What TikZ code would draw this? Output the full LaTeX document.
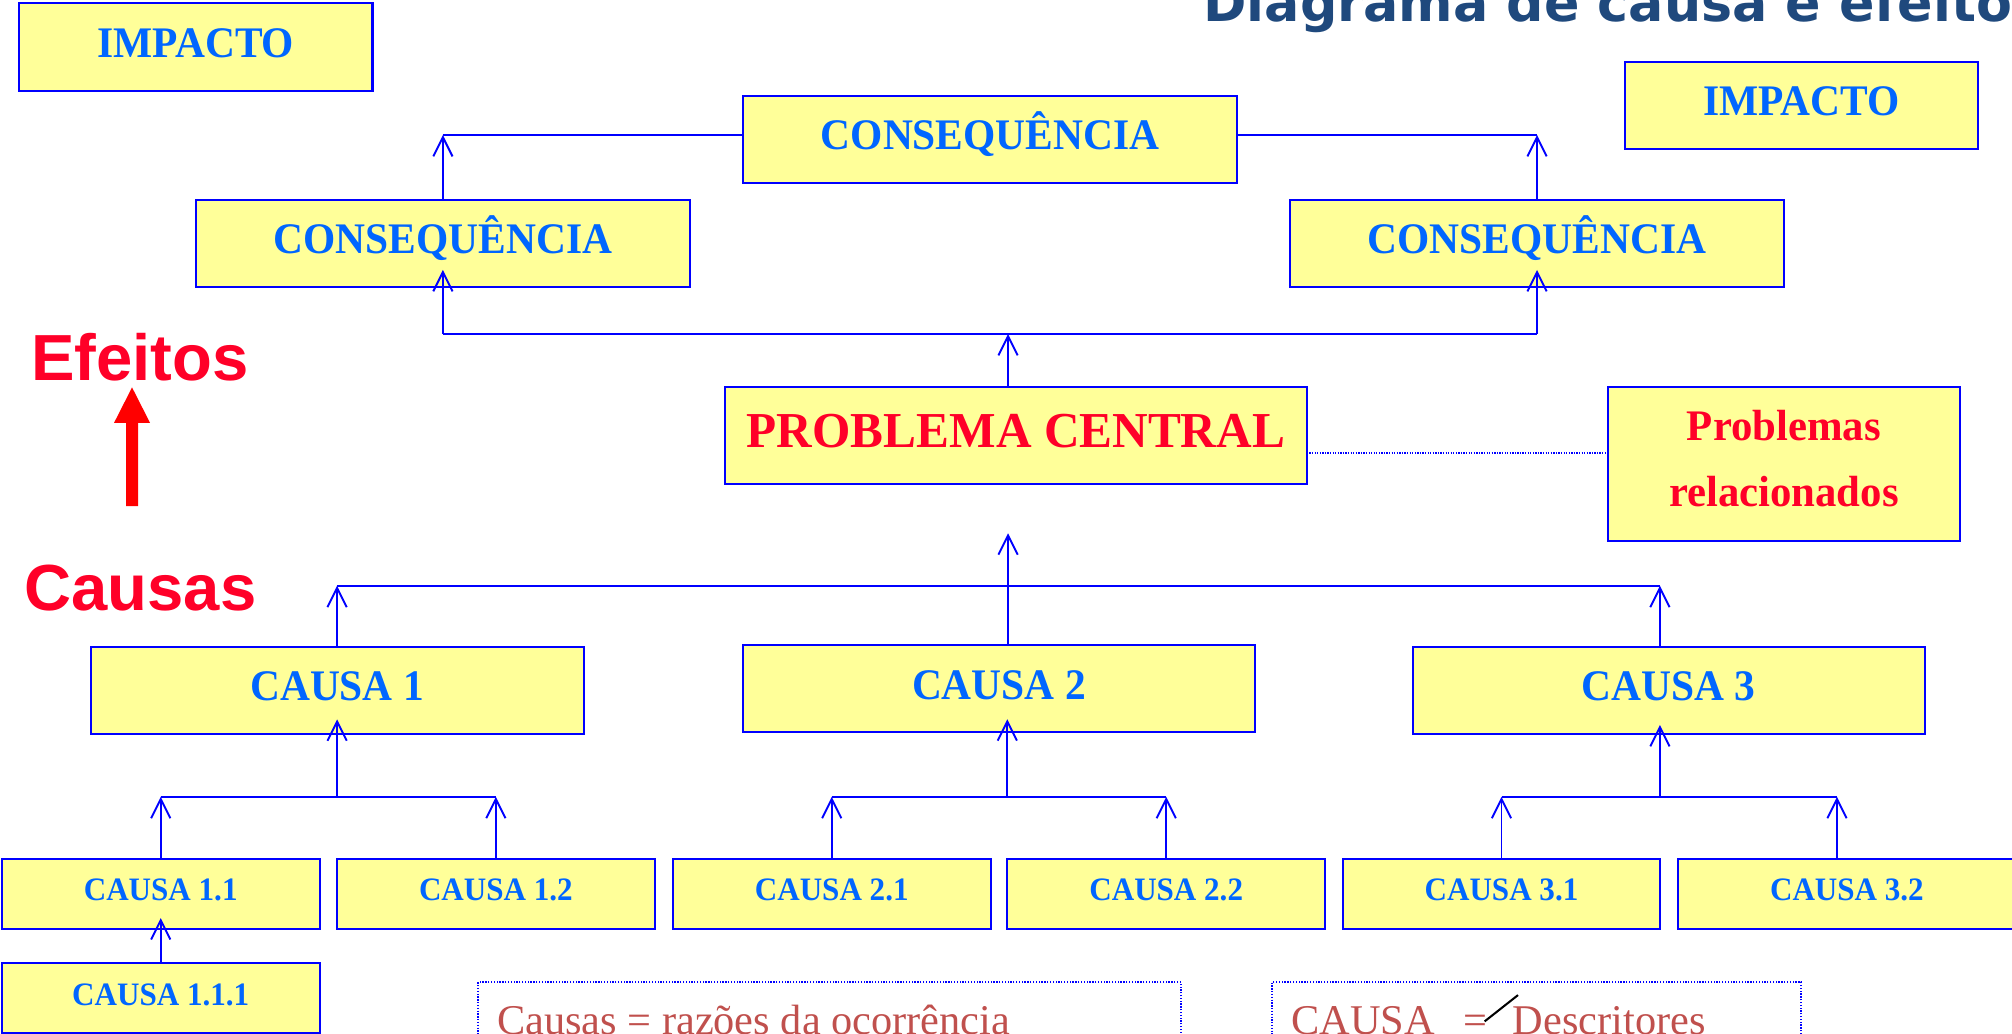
\documentclass[tikz,border=0pt]{standalone}
\usepackage{fontspec}
\usepackage{graphicx}
\usetikzlibrary{arrows.meta,calc}
\setmainfont{Liberation Serif}
\newfontfamily\bx[FakeStretch=0.95]{Liberation Serif}
\newfontfamily\rx[FakeStretch=0.98]{Liberation Serif}
\newfontfamily\sansb{Liberation Sans}
\newfontfamily\titlef{DejaVu Sans}
\definecolor{boxfill}{RGB}{255,255,153}
\definecolor{boxline}{RGB}{0,0,255}
\definecolor{bluetxt}{RGB}{0,102,255}
\definecolor{redtxt}{RGB}{255,0,40}
\definecolor{titleblue}{RGB}{31,73,125}
\definecolor{notered}{RGB}{192,80,77}
\tikzset{
  box/.style={draw=boxline, fill=boxfill, line width=0.8pt, inner sep=0pt, outer sep=0pt,
    text=bluetxt, font=\bx\bfseries\fontsize{17}{20}\selectfont, text height=8pt, text depth=0pt,
    minimum height=33.9pt},
  small/.style={box, font=\bx\bfseries\fontsize{12.75}{15}\selectfont, text height=5.25pt,
    minimum height=27.25pt, minimum width=123.8pt},
  con/.style={draw=boxline, line width=0.75pt},
  arr/.style={-{Straight Barb[length=7.5pt,width=7.5pt]}},
  dotl/.style={draw=boxline, line width=0.7pt, dash pattern=on 0.5pt off 0.5pt},
  dotbox/.style={draw=boxline, line width=0.6pt, dash pattern=on 0.5pt off 0.6pt, inner sep=0pt, outer sep=0pt},
  note/.style={anchor=base west, inner sep=0pt, text=notered, font=\fontsize{16.5}{19}\selectfont},
  side/.style={anchor=base west, inner sep=0pt, text=redtxt, font=\sansb\bfseries\fontsize{25.4}{30}\selectfont}
}
\begin{document}
\begin{tikzpicture}[x=0.5pt,y=-0.5pt]
\useasboundingbox (0,0) rectangle (1568,805.8);
\begin{scope}
\clip (0,0) rectangle (1568,805.8);
% title
\node[anchor=base west, inner sep=0pt, text=titleblue] (title) at (937.5,17)
  {\resizebox{315pt}{!}{\titlef\bfseries Diagrama de causa e efeito}};
% boxes
\node[box, minimum width=137.6pt, minimum height=34.05pt] (impL) at (152.7,36.65) {IMPACTO};
\node[box, minimum width=137.6pt, minimum height=34.05pt] (impR) at (1403.9,82.05) {IMPACTO};
\node[box, minimum width=192.5pt] (cT) at (771.6,108.5) {CONSEQUÊNCIA};
\node[box, minimum width=192.45pt, minimum height=33.75pt] (cL) at (345.15,189.65) {CONSEQUÊNCIA};
\node[box, minimum width=192.35pt, minimum height=33.75pt] (cR) at (1197.85,189.65) {CONSEQUÊNCIA};
\node[box, minimum width=226.75pt, minimum height=38.05pt, text=redtxt,
  font=\rx\bfseries\fontsize{19.6}{23}\selectfont, text height=9.55pt] (prob) at (791.75,339.45) {PROBLEMA CENTRAL};
\node[box, minimum width=137.25pt, minimum height=60pt, text=redtxt, align=center,
  font=\rx\bfseries\fontsize{17}{26}\selectfont, text height=33.8pt, text depth=0.2pt] (rel) at (1390.25,361.4) {Problemas\\relacionados};
\node[box, minimum width=192.1pt, minimum height=33.95pt] (c1) at (262.7,537.95) {CAUSA 1};
\node[box, minimum width=199.5pt, minimum height=33.8pt] (c2) at (778.5,536.8) {CAUSA 2};
\node[box, minimum width=199.5pt, minimum height=34pt] (c3) at (1300.5,538) {CAUSA 3};
\node[small] (c11) at (125.25,696.75) {CAUSA 1.1};
\node[small] (c12) at (386.45,696.75) {CAUSA 1.2};
\node[small] (c21) at (648.2,696.75) {CAUSA 2.1};
\node[small] (c22) at (908.85,696.75) {CAUSA 2.2};
\node[small] (c31) at (1170.15,696.75) {CAUSA 3.1};
\node[small, minimum width=131.65pt] (c32) at (1439.35,696.75) {CAUSA 3.2};
\node[small, text height=6pt, minimum height=27.2pt] (c111) at (125.25,777.8) {CAUSA 1.1.1};
% side labels
\node[side] (efeitos) at (24,296.2) {Efeitos};
\node[side] (causas) at (18.7,475.4) {Causas};
\fill[red] (98.2,394.4) -- (98.2,329.5) -- (88.9,329.5) -- (102.9,301.9) -- (116.9,329.5)
  -- (107.6,329.5) -- (107.6,394.4) -- cycle;
% notes
\node[dotbox, minimum width=273.9pt, minimum height=47.25pt] (nb1) at (646.6,812.75) {};
\node[dotbox, minimum width=206.2pt, minimum height=47.25pt] (nb2) at (1197.5,812.75) {};
\node[note] (t1) at (387,806) {Causas = razões da ocorrência};
\node[note] (t2) at (1006,806) {CAUSA\hspace{11.1pt}=\hspace{10pt}Descritores};
\draw[black, line width=0.8pt] (1157,796) -- (1183,775.5);
% coordinates
\coordinate (jTL) at (345.15,105.2);
\coordinate (jTR) at (1197.85,105.2);
\coordinate (pUp) at (785.6,260.3);
\coordinate (hL) at (262.7,456.5);
\coordinate (hR) at (1293.6,456.5);
\coordinate (pTip) at (785.6,415.6);
\coordinate (g1) at (262.7,621);
\coordinate (g2) at (785,621);
\coordinate (g2t) at (785,560.5);
\coordinate (g3) at (1293.6,621);
\coordinate (g3t) at (1293.6,565);
\coordinate (g3r) at (1431.6,621);
\coordinate (dl) at (1019,352.8);
% consequences
\draw[con,arr] (cL.north) -- (jTL);
\draw[con] (jTL) -- (jTL -| cT.west);
\draw[con,arr] (cR.north) -- (jTR);
\draw[con] (jTR) -- (jTR -| cT.east);
\draw[con,arr] (pUp |- prob.north) -- (pUp);
\draw[con] (cL.south |- pUp) -- (cR.south |- pUp);
\draw[con,arr] (cL.south |- pUp) -- ([yshift=6.5pt]cL.south);
\draw[con,arr] (cR.south |- pUp) -- ([yshift=6.5pt]cR.south);
% related problems
\draw[dotl] (prob.east |- dl) -- (rel.west |- dl);
% causes
\draw[con,arr] (c1.north) -- (hL);
\draw[con,arr] (hR |- c3.north) -- (hR);
\draw[con] (hL) -- (hR);
\draw[con,arr] (pTip |- c2.north) -- (pTip);
% sub causes
\draw[con,arr] (c11.north) -- (c11.north |- g1);
\draw[con,arr] (c12.north) -- (c12.north |- g1);
\draw[con] (c11.north |- g1) -- (c12.north |- g1);
\draw[con,arr] (g1) -- ([yshift=5.65pt]c1.south);
\draw[con,arr] (c21.north) -- (c21.north |- g2);
\draw[con,arr] (c22.north) -- (c22.north |- g2);
\draw[con] (c21.north |- g2) -- (c22.north |- g2);
\draw[con,arr] (g2) -- (g2t);
\draw[con,arr] (c31.north) -- (c31.north |- g3);
\draw[con,arr] (g3r |- c32.north) -- (g3r);
\draw[con] (c31.north |- g3) -- (g3r);
\draw[con,arr] (g3) -- (g3t);
\draw[con,arr] (c111.north) -- ([yshift=4.25pt]c11.south);
\end{scope}
\end{tikzpicture}
\end{document}
